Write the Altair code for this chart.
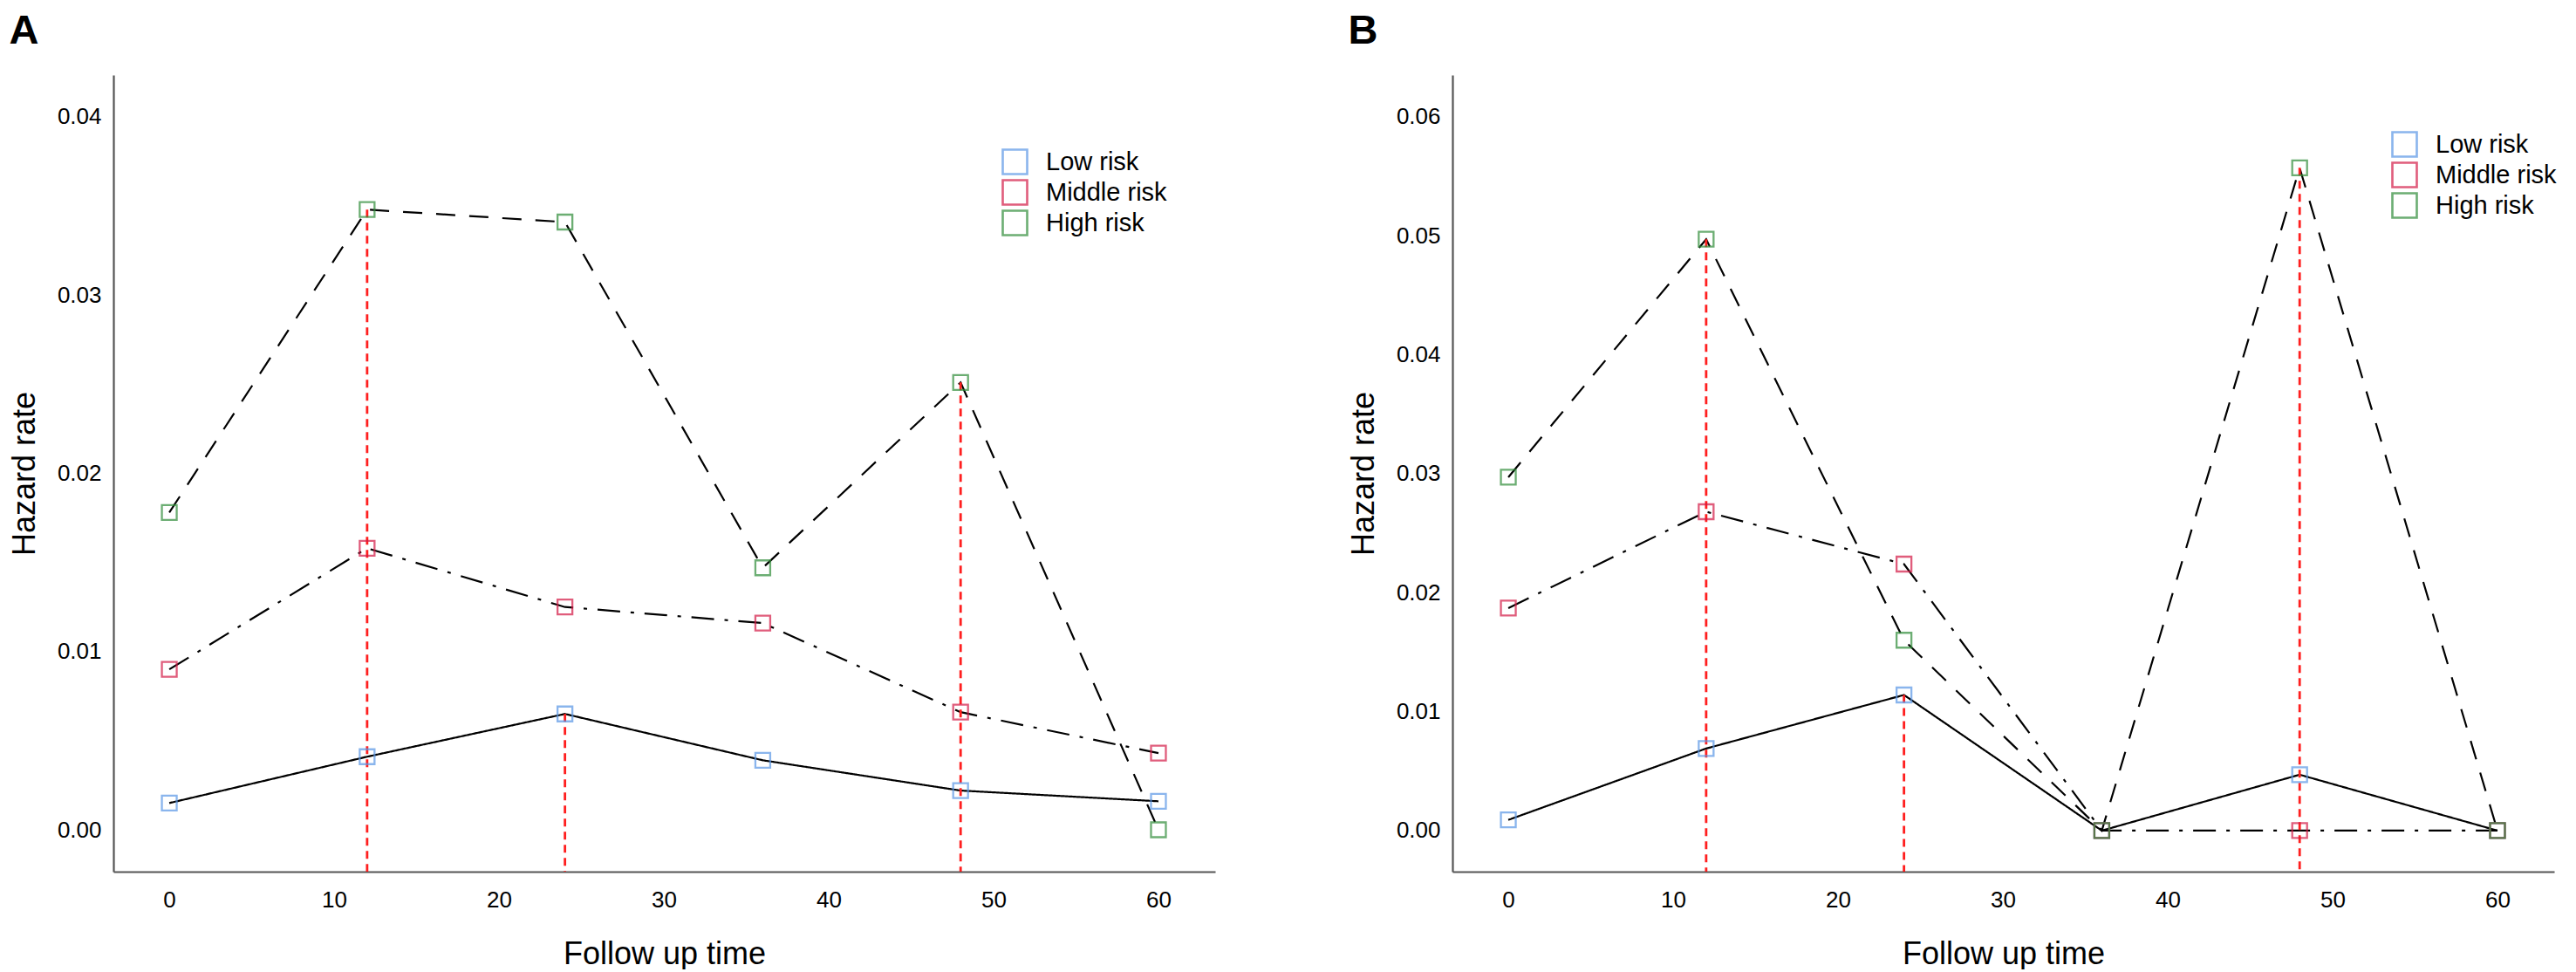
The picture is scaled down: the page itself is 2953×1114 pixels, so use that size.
import altair as alt
import pandas as pd

# ---- data ----
time = [0, 12, 24, 36, 48, 60]
groups = ["Low risk", "Middle risk", "High risk"]

a_low = [0.0015, 0.0041, 0.0065, 0.0039, 0.0022, 0.0016]
a_mid = [0.0090, 0.0158, 0.0125, 0.0116, 0.0066, 0.0043]
a_high = [0.0178, 0.0348, 0.0341, 0.0147, 0.0251, 0.0000]
a_rule_time = [12, 24, 48]
a_rule_top = [0.0348, 0.0065, 0.0251]

b_low = [0.0009, 0.0069, 0.0114, 0.0000, 0.0047, 0.0000]
b_mid = [0.0187, 0.0268, 0.0224, 0.0000, 0.0000, 0.0000]
b_high = [0.0297, 0.0497, 0.0160, 0.0000, 0.0557, 0.0000]
b_rule_time = [12, 24, 48]
b_rule_top = [0.0497, 0.0114, 0.0557]

a_yticks = [0.00, 0.01, 0.02, 0.03, 0.04]
b_yticks = [0.00, 0.01, 0.02, 0.03, 0.04, 0.05, 0.06]
x_ticks = [0, 10, 20, 30, 40, 50, 60]

colors = ["#5a97e6", "#d41a45", "#2f8c38"]
dashes = [[1, 0], [26, 12, 4, 12], [22, 16]]
FONT = "Liberation Sans"
XDOM = [-3.39, 63.44]


def long_df(low, mid, high):
    rows = []
    for g, vals in zip(groups, [low, mid, high]):
        for t, v in zip(time, vals):
            rows.append({"time": t, "rate": v, "group": g})
    return pd.DataFrame(rows)


def panel(label, low, mid, high, ydom, yticks, rtime, rtop, lx, ly):
    df = long_df(low, mid, high)
    xenc = alt.X(
        "time:Q",
        scale=alt.Scale(domain=XDOM, nice=False, zero=False),
        axis=alt.Axis(
            values=x_ticks, title="Follow up time", ticks=False, grid=False,
            labelFontSize=26, labelFont=FONT, labelColor="black", labelPadding=19,
            titleFontSize=36, titleFont=FONT, titleFontWeight="normal",
            titleColor="black", titlePadding=32,
            domainColor="#555555", domainWidth=2.2,
        ),
    )
    yenc = alt.Y(
        "rate:Q",
        scale=alt.Scale(domain=ydom, nice=False, zero=False),
        axis=alt.Axis(
            values=yticks, format=".2f", title="Hazard rate", ticks=False, grid=False,
            labelFontSize=26, labelFont=FONT, labelColor="black", labelPadding=14,
            titleFontSize=36, titleFont=FONT, titleFontWeight="normal",
            titleColor="black", titlePadding=18,
            domainColor="#555555", domainWidth=2.2,
        ),
    )
    base = alt.Chart(df)
    line_layers = []
    for i, (g, d) in enumerate(zip(groups, dashes)):
        enc_x = xenc if i == 0 else alt.X("time:Q")
        enc_y = yenc if i == 0 else alt.Y("rate:Q")
        line_layers.append(
            base.transform_filter(alt.datum.group == g)
            .mark_line(color="black", strokeWidth=2.2, strokeDash=d)
            .encode(x=enc_x, y=enc_y, order="time:Q")
        )
    rdf = pd.DataFrame({"time": rtime, "top": rtop})
    rules = alt.Chart(rdf).mark_rule(
        color="#ff1f1f", strokeWidth=2.8, strokeDash=[9, 6]
    ).encode(
        x="time:Q",
        y="top:Q",
        y2=alt.datum(ydom[0]),
    )
    points = base.mark_point(
        shape="square", filled=False, size=289, strokeWidth=2.3
    ).encode(
        x="time:Q",
        y="rate:Q",
        color=alt.Color(
            "group:N",
            scale=alt.Scale(domain=groups, range=colors),
            legend=alt.Legend(
                title=None, orient="none", legendX=lx, legendY=ly,
                symbolType="square", symbolSize=784, symbolStrokeWidth=2.6,
                labelFontSize=29, labelFont=FONT, labelColor="black",
                labelOffset=20, rowPadding=-4,
            ),
        ),
    )
    return alt.layer(*line_layers, rules, points).properties(
        width=1263,
        height=913,
        title=alt.TitleParams(
            text=label, anchor="start", frame="bounds", fontSize=47,
            fontWeight="bold", font=FONT, color="black", offset=26,
        ),
    )


chart_a = panel("A", a_low, a_mid, a_high, [-0.00235, 0.04235], a_yticks,
                a_rule_time, a_rule_top, 1018, 84)
chart_b = panel("B", b_low, b_mid, b_high, [-0.00345, 0.0635], b_yticks,
                b_rule_time, b_rule_top, 1076, 64)

chart = alt.hconcat(chart_a, chart_b, spacing=152).properties(
    padding={"left": 2, "top": 4, "right": 0, "bottom": 0}
).resolve_scale(color="independent").configure_view(stroke=None)

chart.save("out.html", embed_options={"renderer": "svg", "actions": False})
